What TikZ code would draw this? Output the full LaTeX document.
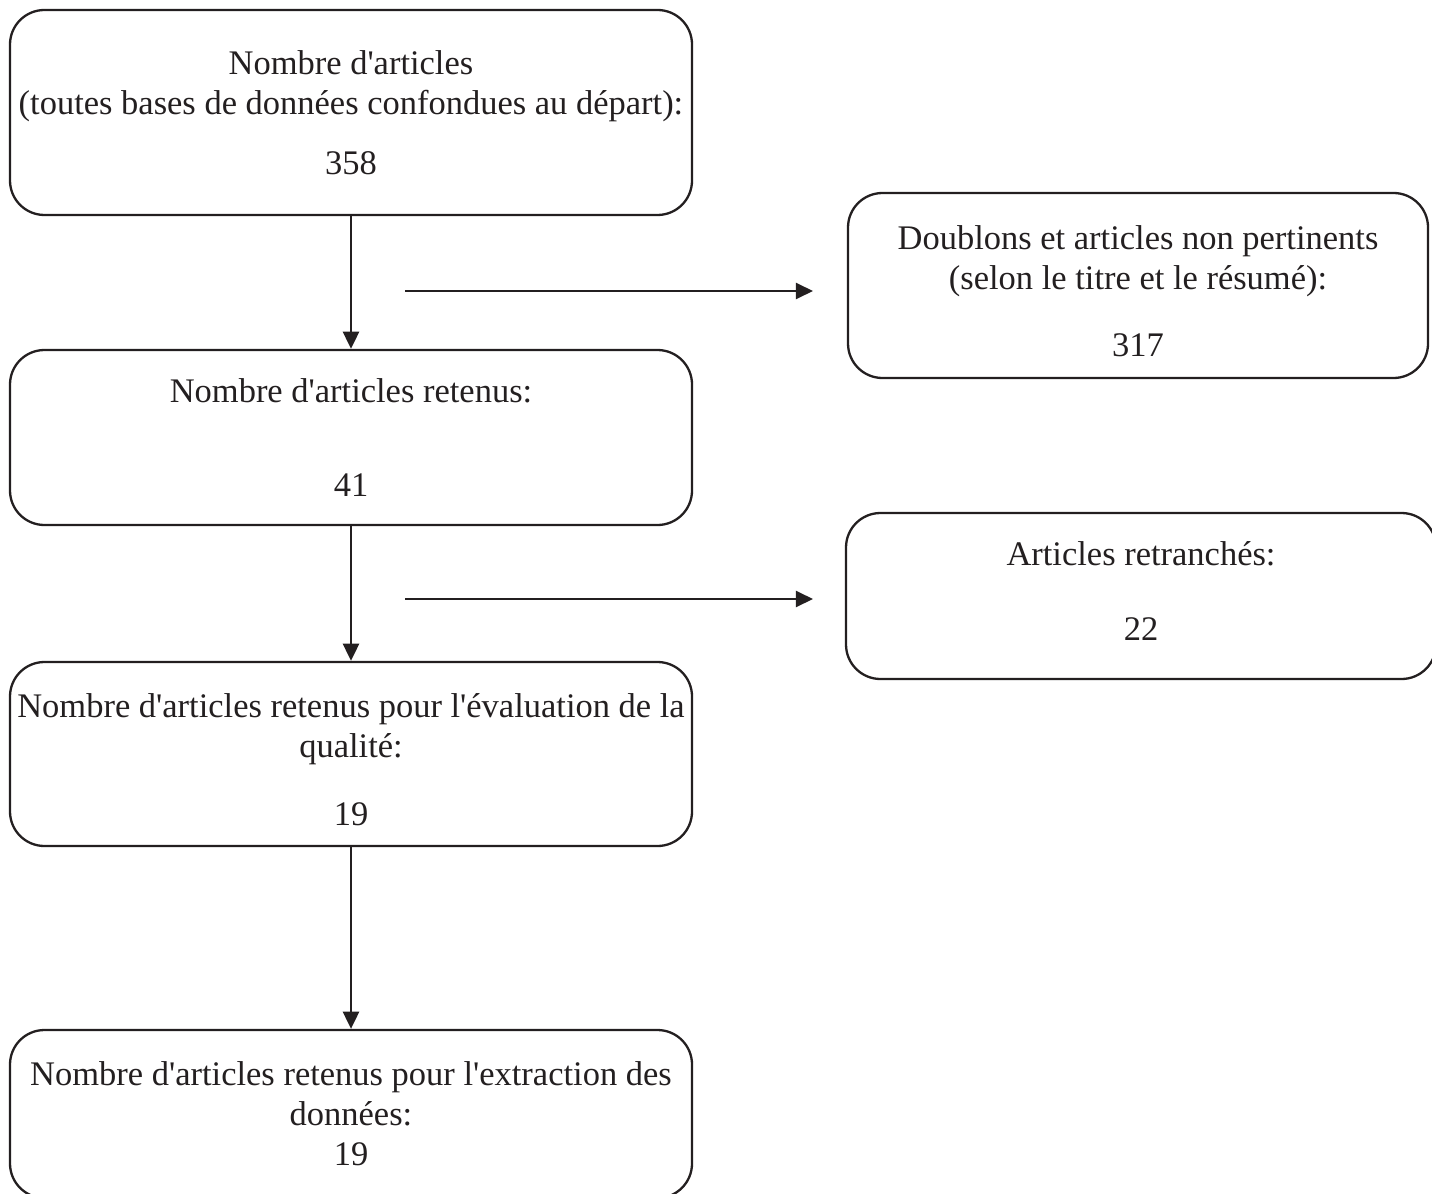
\documentclass[tikz,border=0pt]{standalone}
\usepackage{fontspec}
\setmainfont{Liberation Serif}[Ligatures=TeXOff]
\usepackage{tikz}
\usetikzlibrary{positioning}
\usetikzlibrary{arrows.meta}
\definecolor{ink}{RGB}{35,31,32}
\newdimen\pu
\pu=0.348pt

\begin{document}
\begin{tikzpicture}[x=\pu, y=-\pu,
	every node/.style={font=\fontsize{12}{13.9}\selectfont, text=ink},
	stagebox/.style={draw=ink, line width=0.8pt, rounded corners=12pt, align=center, inner sep=0pt},
	flow/.style={draw=ink, line width=0.85pt, -{Triangle[length=6pt, width=5.6pt]}}]
		
		\useasboundingbox (0,0) rectangle (1432,1193);
		
		% left column
		\node at (351,112.5) [stagebox, minimum width=682*\pu, minimum height=205*\pu] (total) {Nombre d'articles\\(toutes bases de données confondues au départ):\\[7pt]358};
		\node at (351,437.5) [stagebox, minimum width=682*\pu, minimum height=175*\pu] (retenus) {Nombre d'articles retenus:\\[19pt]41};
		\node at (351,754) [stagebox, minimum width=682*\pu, minimum height=184*\pu] (qualite) {\rule{0pt}{12.4pt}Nombre d'articles retenus pour l'évaluation de la\\qualité:\\[9.8pt]19};
		\node at (351,1114) [stagebox, minimum width=682*\pu, minimum height=168*\pu] (extraction) {Nombre d'articles retenus pour l'extraction des\\données:\\19};
		
		% right column
		% the struts only move the text a little inside its box
		\node at (1138,285.5) [stagebox, minimum width=580*\pu, minimum height=185*\pu] (doublons) {\rule{0pt}{12.5pt}Doublons et articles non pertinents\\(selon le titre et le résumé):\\[9.4pt]317};
		\node at (1141,596) [stagebox, minimum width=590*\pu, minimum height=166*\pu] (retranches) {Articles retranchés:\\[12pt]22\rule[-3.5pt]{0pt}{0pt}};
		
		% free ends of the side arrows
		\coordinate (excl1a) at (405,291);
		\coordinate (excl1b) at (813,291);
		\coordinate (excl2a) at (405,599);
		\coordinate (excl2b) at (813,599);
		
		\draw [flow] (total) -- (retenus);
		\draw [flow] (retenus) -- (qualite);
		\draw [flow] (qualite) -- (extraction);
		\draw [flow] (excl1a) -- (excl1b);
		\draw [flow] (excl2a) -- (excl2b);
		
\end{tikzpicture}
\end{document}
